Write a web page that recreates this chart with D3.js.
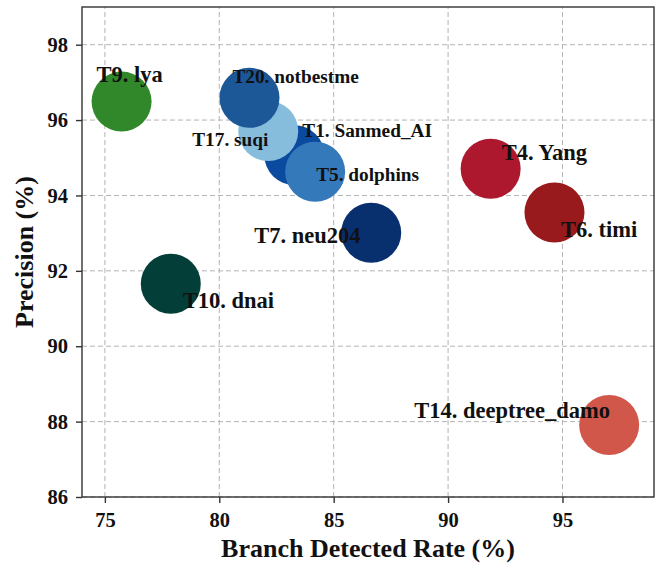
<!DOCTYPE html>
<html>
<head>
<meta charset="utf-8">
<script src="https://cdn.jsdelivr.net/npm/d3@7"></script>
<style>
  html, body { margin: 0; padding: 0; background: #fff; }
  svg { display: block; }
  text { font-family: "Liberation Serif", "Times New Roman", serif; font-weight: bold; fill: #111; }
</style>
</head>
<body>
<svg id="chart" width="659" height="566"></svg>
<script>
// ---- data ----
const teams = ["T1. Sanmed_AI", "T5. dolphins", "T17. suqi", "T20. notbestme", "T9. lya",
               "T7. neu204", "T10. dnai", "T4. Yang", "T6. timi", "T14. deeptree_damo"];
const branchRate = [83.28, 84.19, 82.14, 81.32, 75.73, 86.64, 77.88, 91.86, 94.65, 97.04];
const precision  = [95.07, 94.63, 95.71, 96.59, 96.49, 93.01, 91.66, 94.71, 93.55, 87.91];
const xTicks = [75, 80, 85, 90, 95];
const yTicks = [86, 88, 90, 92, 94, 96, 98];

// ---- styling / layout ----
const colors = ["#0a4a9f", "#3479ba", "#86bcdc", "#1c5797", "#31882a",
                "#08306f", "#033f38", "#ad182f", "#981a1c", "#d1574b"];
// label offsets (px) from the bubble centre, and label font sizes
const labelDx = [8, 1, -76, -17, -25, -117, 12, 11, 6.5, -195];
const labelDy = [-18, 9, 15, -14.5, -20, 10.5, 24.5, -9, 25, -7.5];
const labelSize = [19.3, 19.3, 19.3, 19.3, 22.5, 22.5, 22.5, 22.5, 22.5, 22.5];

const W = 659, H = 566;
const m = { left: 82, right: 5, top: 7, bottom: 69 };
const svg = d3.select("#chart");

const x = d3.scaleLinear().domain([74, 99]).range([m.left, W - m.right]);
const y = d3.scaleLinear().domain([86, 99]).range([H - m.bottom, m.top]);

// grid
const grid = svg.append("g");
grid.selectAll(".gx").data(xTicks).enter().append("line")
  .attr("x1", d => x(d)).attr("x2", d => x(d))
  .attr("y1", y.range()[0]).attr("y2", y.range()[1])
  .attr("stroke", "#b4b4b4").attr("stroke-width", 1).attr("stroke-dasharray", "5,3");
grid.selectAll(".gy").data(yTicks).enter().append("line")
  .attr("y1", d => y(d)).attr("y2", d => y(d))
  .attr("x1", x.range()[0]).attr("x2", x.range()[1])
  .attr("stroke", "#b4b4b4").attr("stroke-width", 1).attr("stroke-dasharray", "5,3");

// bubbles
const idx = d3.range(teams.length);
svg.append("g").selectAll("circle").data(idx).enter().append("circle")
  .attr("cx", i => x(branchRate[i]))
  .attr("cy", i => y(precision[i]))
  .attr("r", 30)
  .attr("fill", i => colors[i]);

// labels
svg.append("g").selectAll("text").data(idx).enter().append("text")
  .attr("x", i => x(branchRate[i]) + labelDx[i])
  .attr("y", i => y(precision[i]) + labelDy[i])
  .attr("font-size", i => labelSize[i])
  .text(i => teams[i]);

// frame
svg.append("rect")
  .attr("x", m.left).attr("y", m.top)
  .attr("width", W - m.left - m.right).attr("height", H - m.top - m.bottom)
  .attr("fill", "none").attr("stroke", "#333").attr("stroke-width", 1.4);

// axes
const xAxis = svg.append("g").attr("transform", `translate(0,${H - m.bottom})`)
  .call(d3.axisBottom(x).tickValues(xTicks).tickSize(6).tickPadding(9).tickFormat(d3.format("d")));
const yAxis = svg.append("g").attr("transform", `translate(${m.left},0)`)
  .call(d3.axisLeft(y).tickValues(yTicks).tickSize(6).tickPadding(8).tickFormat(d3.format("d")));
[xAxis, yAxis].forEach(a => {
  a.select(".domain").remove();
  a.selectAll(".tick line").attr("stroke", "#333").attr("stroke-width", 1.4);
  a.selectAll(".tick text")
    .attr("fill", "#111")
    .attr("font-family", "Liberation Serif, serif")
    .attr("font-weight", "bold")
    .attr("font-size", 20.5);
});

// axis titles
svg.append("text")
  .attr("x", (m.left + W - m.right) / 2).attr("y", 557)
  .attr("text-anchor", "middle").attr("font-size", 26)
  .text("Branch Detected Rate (%)");
svg.append("text")
  .attr("transform", `translate(33,${(m.top + H - m.bottom) / 2}) rotate(-90)`)
  .attr("text-anchor", "middle").attr("font-size", 26)
  .text("Precision (%)");
</script>
</body>
</html>
